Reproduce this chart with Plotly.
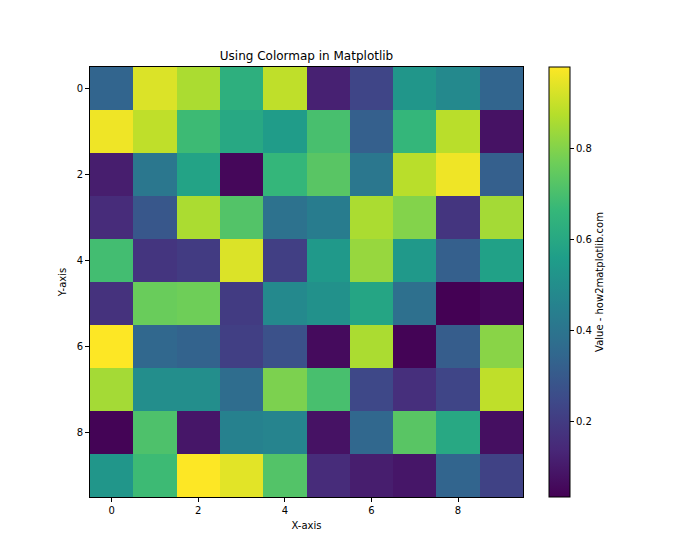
import plotly.graph_objects as go

x_idx = list(range(10))
y_idx = list(range(10))

row0 = [0.34, 0.93, 0.86, 0.63, 0.89, 0.12, 0.23, 0.53, 0.48, 0.34]
row1 = [0.96, 0.89, 0.68, 0.60, 0.55, 0.70, 0.32, 0.66, 0.88, 0.08]
row2 = [0.11, 0.41, 0.58, 0.05, 0.66, 0.73, 0.41, 0.88, 0.96, 0.32]
row3 = [0.15, 0.29, 0.86, 0.72, 0.39, 0.43, 0.86, 0.80, 0.18, 0.85]
row4 = [0.69, 0.18, 0.20, 0.93, 0.21, 0.54, 0.83, 0.54, 0.32, 0.57]
row5 = [0.17, 0.76, 0.77, 0.20, 0.48, 0.51, 0.59, 0.38, 0.033, 0.05]
row6 = [0.98, 0.35, 0.33, 0.21, 0.27, 0.06, 0.86, 0.04, 0.31, 0.81]
row7 = [0.85, 0.50, 0.50, 0.37, 0.79, 0.70, 0.24, 0.16, 0.23, 0.89]
row8 = [0.04, 0.71, 0.09, 0.45, 0.46, 0.08, 0.35, 0.73, 0.60, 0.07]
row9 = [0.53, 0.68, 0.98, 0.94, 0.72, 0.15, 0.11, 0.09, 0.34, 0.22]

z = [row0, row1, row2, row3, row4, row5, row6, row7, row8, row9]

tick_vals = [0, 2, 4, 6, 8]
cbar_ticks = [0.2, 0.4, 0.6, 0.8]

font = dict(family="DejaVu Sans", size=10, color="black")

fig = go.Figure(go.Heatmap(
    z=z, x=x_idx, y=y_idx, colorscale="Viridis",
    colorbar=dict(
        x=(549 - 90) / 433, xanchor="left", xref="paper", xpad=0, ypad=0,
        y=0.5, yanchor="middle", len=1.0, lenmode="fraction",
        thickness=21, thicknessmode="pixels",
        outlinewidth=1, outlinecolor="black",
        tickvals=cbar_ticks, ticktext=["0.2", "0.4", "0.6", "0.8"],
        ticks="outside", ticklen=4, tickcolor="black",
        tickfont=font,
        title=dict(text="Value - how2matplotlib.com", side="right", font=font),
    ),
))

fig.update_layout(
    width=700, height=560,
    margin=dict(l=90, r=177, t=67, b=63),
    paper_bgcolor="white", plot_bgcolor="white",
    font=font,
    title=dict(text="Using Colormap in Matplotlib", x=(90 + 523) / 2 / 700, xanchor="center",
               y=1 - 56 / 560, yanchor="middle", font=dict(family="DejaVu Sans", size=12, color="black")),
    xaxis=dict(range=[-0.5, 9.5], tickvals=tick_vals, ticks="outside", ticklen=4, tickcolor="black",
               showline=True, linecolor="black", linewidth=1, mirror=True, showgrid=False, zeroline=False,
               title=dict(text="X-axis", font=font, standoff=6)),
    yaxis=dict(range=[9.5, -0.5], tickvals=tick_vals, ticks="outside", ticklen=4, tickcolor="black",
               showline=True, linecolor="black", linewidth=1, mirror=True, showgrid=False, zeroline=False,
               title=dict(text="Y-axis", font=font, standoff=8)),
)

fig.write_html("out.html")
